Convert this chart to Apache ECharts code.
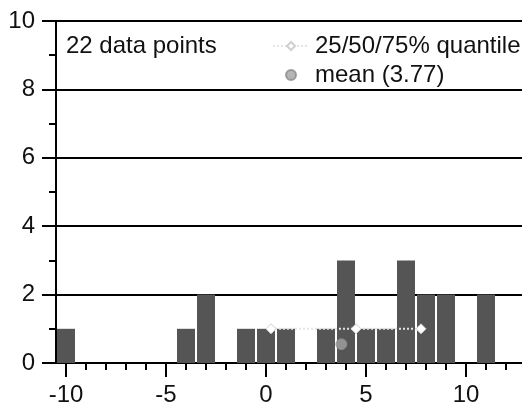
<!DOCTYPE html>
<html>
<head>
<meta charset="utf-8">
<script src="https://cdn.jsdelivr.net/npm/echarts@6/dist/echarts.min.js"></script>
<style>
html,body{margin:0;padding:0;background:#fff;}
#chart{width:522px;height:407px;}
</style>
</head>
<body>
<div id="chart"></div>
<script>
// ---- data ----
const binCenters = [-10, -4, -3, -1, 0, 1, 3, 4, 5, 6, 7, 8, 9, 11];
const binCounts  = [1, 1, 2, 1, 1, 1, 1, 3, 1, 1, 3, 2, 2, 2];
const quantileValues = [0.25, 4.5, 7.75];   // 25/50/75 %
const quantileLevel = 1;
const meanValue = 3.77;
const meanLevel = 0.55;
const xMajorTicks = [-10, -5, 0, 5, 10];
const xMinorTicks = [-10, -9, -8, -7, -6, -5, -4, -3, -2, -1, 0, 1, 2, 3, 4, 5, 6, 7, 8, 9, 10, 11, 12];
const nPointsLabel = '22 data points';
const quantileLabel = '25/50/75% quantile';
const meanLabel = 'mean (3.77)';

const FONT = "'Liberation Sans', Arial, Helvetica, sans-serif";
const xMin = -10.5, xMax = 12.8;

const chart = echarts.init(document.getElementById('chart'), null, {renderer: 'canvas'});
chart.setOption({
  animation: false,
  backgroundColor: '#ffffff',
  title: {
    text: nPointsLabel,
    left: 66, top: 34, padding: 0,
    textStyle: {fontFamily: FONT, fontSize: 24, fontWeight: 'normal', color: '#111', lineHeight: 24}
  },
  legend: {
    orient: 'vertical',
    left: 272, top: 34, padding: 0,
    itemWidth: 36, itemHeight: 10, itemGap: 5,
    data: [quantileLabel, meanLabel],
    textStyle: {fontFamily: FONT, fontSize: 24, color: '#111', lineHeight: 24, padding: [0, 0, 0, 1]}
  },
  grid: {left: 56, top: 21, width: 470, height: 345, containLabel: false},
  xAxis: [
    {
      type: 'value', min: xMin, max: xMax,
      axisLine: {show: true, onZero: false, lineStyle: {color: '#000', width: 2}},
      axisTick: {show: true, customValues: xMajorTicks, length: 14, lineStyle: {color: '#000', width: 2}},
      axisLabel: {show: true, customValues: xMajorTicks, margin: 20, fontFamily: FONT, fontSize: 24, color: '#111',
        formatter: v => String(v)},
      splitLine: {show: false}
    },
    {
      type: 'value', min: xMin, max: xMax, position: 'bottom', offset: 0,
      axisLine: {show: false, onZero: false},
      axisTick: {show: true, customValues: xMinorTicks, length: 7, lineStyle: {color: '#000', width: 2}},
      axisLabel: {show: false},
      splitLine: {show: false}
    }
  ],
  yAxis: {
    type: 'value', min: 0, max: 10, interval: 2,
    axisLine: {show: true, onZero: false, lineStyle: {color: '#000', width: 2}},
    axisTick: {show: true, length: 14, lineStyle: {color: '#000', width: 2}},
    minorTick: {show: true, splitNumber: 2, length: 7, lineStyle: {color: '#000', width: 2}},
    axisLabel: {margin: 21, fontFamily: FONT, fontSize: 24, color: '#111'},
    splitLine: {show: true, lineStyle: {color: '#000', width: 2}},
    minorSplitLine: {show: false}
  },
  series: [
    {
      type: 'bar', name: 'counts', xAxisIndex: 0,
      data: binCenters.map((c, i) => [c, binCounts[i]]),
      barWidth: 18,
      itemStyle: {color: '#555555'},
      z: 2
    },
    {
      type: 'line', name: quantileLabel, xAxisIndex: 0,
      data: quantileValues.map(q => [q, quantileLevel]),
      symbol: 'diamond', symbolSize: 10,
      lineStyle: {color: '#e4e4e4', width: 2, type: 'dotted'},
      itemStyle: {color: '#ffffff', borderColor: '#d0d0d0', borderWidth: 1},
      z: 3
    },
    {
      type: 'scatter', name: meanLabel, xAxisIndex: 0,
      data: [[meanValue, meanLevel]],
      symbol: 'circle', symbolSize: 11,
      itemStyle: {color: '#a3a3a3', borderColor: '#8a8a8a', borderWidth: 1},
      z: 4
    }
  ]
});
</script>
</body>
</html>
